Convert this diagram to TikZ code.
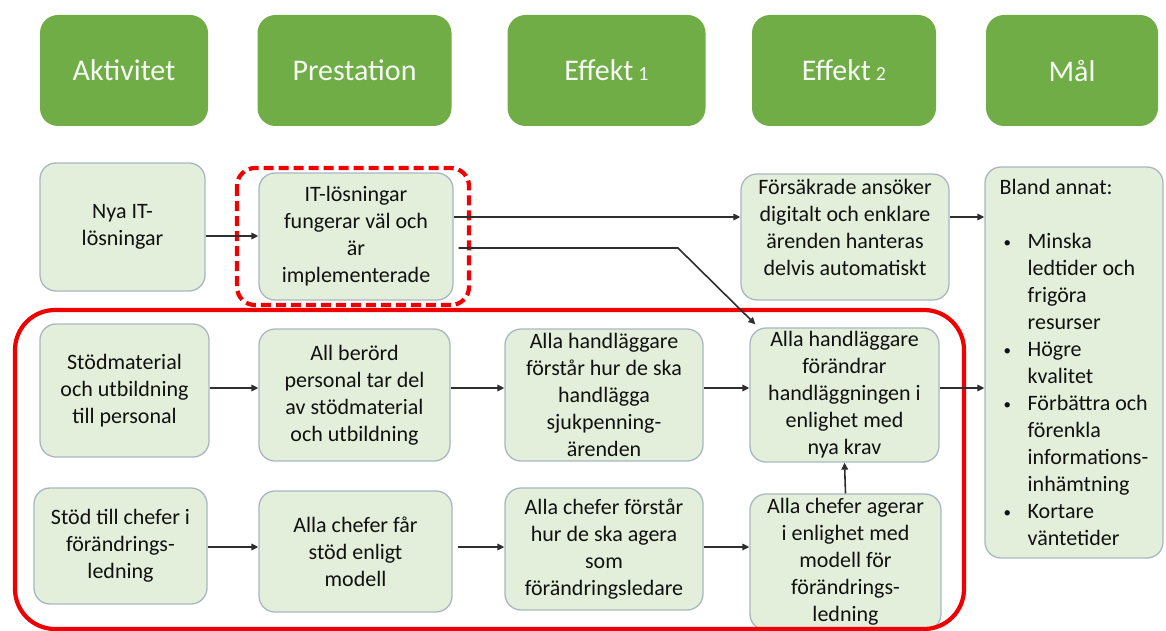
\documentclass[tikz,border=0pt]{standalone}
\usepackage{fontspec}
\setmainfont{Carlito}
\usetikzlibrary{arrows.meta,calc}
\definecolor{hdr}{HTML}{70AD47}
\definecolor{boxfill}{HTML}{E3EFDA}
\definecolor{boxline}{HTML}{A9B7C2}
\definecolor{txtc}{HTML}{111111}
\definecolor{arrc}{HTML}{2E2E2E}
\definecolor{redl}{HTML}{F00000}
\newcommand{\bul}{\makebox[28pt][l]{\hspace{4pt}{\fontsize{15}{15}\selectfont\raisebox{1pt}{•}}}}
\begin{document}
\begin{tikzpicture}[x=1pt,y=-1pt,
 hdrbox/.style={fill=hdr, rounded corners=18pt, text=white!94!hdr, font=\fontsize{30}{36}\selectfont, minimum height=111pt, inner sep=0pt},
 cbox/.style={fill=boxfill, draw=boxline, line width=1.3pt, rounded corners=16pt, text=txtc, font=\fontsize{22}{27}\selectfont, align=center, inner sep=0pt},
 ctext/.style={text=txtc, font=\fontsize{22}{27}\selectfont, align=center, inner sep=0pt},
 conn/.style={draw=arrc, line width=1.6pt, -{Triangle[length=7pt,width=6.5pt]}},
 frame/.style={draw=redl, line width=4.2pt},
]
\useasboundingbox (0,0) rectangle (1166,631);
\fill[white] (0,0) rectangle (1166,631);

% headers
\node[hdrbox, minimum width=168pt] (h1) at (124,70.5) {Aktivitet};
\node[hdrbox, minimum width=194pt] (h2) at (354.5,70.5) {Prestation};
\node[hdrbox, minimum width=198pt] (h3) at (606.5,70.5) {Effekt\,{\fontsize{20}{20}\selectfont 1}};
\node[hdrbox, minimum width=184pt] (h4) at (844,70.5) {Effekt\,{\fontsize{20}{20}\selectfont 2}};
\node[hdrbox, minimum width=172pt] (h5) at (1072,70.5) {Mål};

% row 1
\node[cbox, minimum width=165pt, minimum height=128pt] (a1) at (122.5,227) {Nya IT-\\lösningar};
\node[cbox, minimum width=194pt, minimum height=127pt] (p1) at (356,236.5) {IT-lösningar\\fungerar väl och\\är\\implementerade};
\node[cbox, minimum width=208pt, minimum height=126pt] (e1) at (845,237) {};
\node[ctext] (e1t) at (845,227) {Försäkrade ansöker\\digitalt och enklare\\ärenden hanteras\\delvis automatiskt};

% goal box
\node[cbox, align=left, minimum width=178pt, minimum height=391pt] (m) at (1074,362.5) {Bland annat:\\[27pt]
\bul Minska\\
\hspace*{28pt}ledtider och\\
\hspace*{28pt}frigöra\\
\hspace*{28pt}resurser\\
\bul Högre\\
\hspace*{28pt}kvalitet\\
\bul Förbättra och\\
\hspace*{28pt}förenkla\\
\hspace*{28pt}informations-\\
\hspace*{28pt}inhämtning\\
\bul Kortare\\
\hspace*{28pt}väntetider};

% row 2
\node[cbox, minimum width=169pt, minimum height=133pt] (s1) at (124.5,390.5) {Stödmaterial\\och utbildning\\till personal};
\node[cbox, minimum width=191pt, minimum height=132pt] (s2) at (354.5,395) {All berörd\\personal tar del\\av stödmaterial\\och utbildning};
\node[cbox, minimum width=198pt, minimum height=132pt] (s3) at (604,395) {Alla handläggare\\förstår hur de ska\\handlägga\\sjukpenning-\\ärenden};
\node[cbox, minimum width=189pt, minimum height=134pt] (s4) at (844.5,395) {Alla handläggare\\förändrar\\handläggningen i\\enlighet med\\nya krav};

% row 3
\node[cbox, minimum width=173pt, minimum height=116pt] (c1) at (120.5,546) {Stöd till chefer i\\förändrings-\\ledning};
\node[cbox, minimum width=193pt, minimum height=121pt] (c2) at (355.5,551.5) {Alla chefer får\\stöd enligt\\modell};
\node[cbox, minimum width=198pt, minimum height=122pt] (c3) at (604,549) {Alla chefer förstår\\hur de ska agera\\som\\förändringsledare};
\node[cbox, minimum width=191pt, minimum height=136pt] (c4) at (845.5,562) {Alla chefer agerar\\i enlighet med\\modell för\\förändrings-\\ledning};

% red frames
\draw[frame, rounded corners=40pt] (15,310) rectangle (964,629);
\draw[frame, rounded corners=18pt, dash pattern=on 10pt off 5pt] (237,168) rectangle (469,305);

% connectors
\coordinate (bend) at (678,248);
\draw[conn] (a1.east |- 0,236) -- (p1.west |- 0,236);
\draw[conn] (p1.east |- 0,217) -- (e1.west |- 0,217);
\draw[conn] ($(p1.east |- 0,248)+(5,0)$) -- (bend) -- ($(s4.north west)+(6,-3)$);
\draw[conn] (e1.east |- 0,217) -- (m.west |- 0,217);

\draw[conn] (s1.east |- 0,388) -- (s2.west |- 0,388);
\draw[conn] (s2.east |- 0,388) -- (s3.west |- 0,388);
\draw[conn] (s3.east |- 0,388) -- (s4.west |- 0,388);
\draw[conn] (s4.east |- 0,388) -- (m.west |- 0,388);

\draw[conn] (c1.east |- 0,547) -- (c2.west |- 0,547);
\draw[conn] ($(c2.east |- 0,547)+(5,0)$) -- (c3.west |- 0,547);
\draw[conn] (c3.east |- 0,547) -- (c4.west |- 0,547);
\draw[conn] (c4.north) -- (s4.south);
\end{tikzpicture}
\end{document}
